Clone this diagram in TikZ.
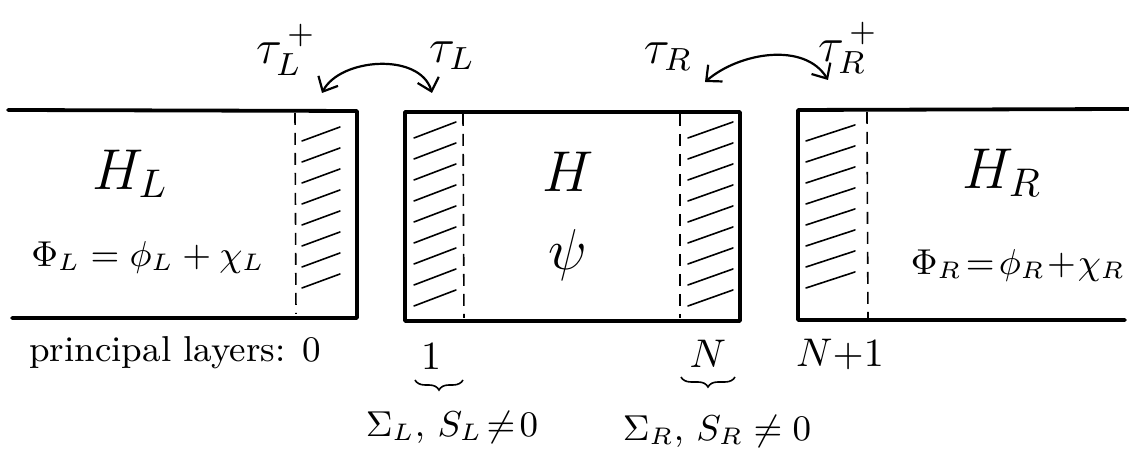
\documentclass[tikz,border=0pt]{standalone}
\usetikzlibrary{arrows.meta,decorations.pathreplacing}
\begin{document}
\begin{tikzpicture}[x=0.25pt,y=-0.25pt,
  box/.style={line width=0.95pt, line join=round, line cap=round},
  sep/.style={line width=0.4pt, dash pattern=on 3pt off 2pt},
  hatch/.style={line width=0.4pt, line cap=round},
  barb/.tip={Straight Barb[length=3pt,width=5.5pt,line width=0.55pt]},
  hop/.style={line width=0.55pt, {barb}-{barb}},
  lbl/.style={inner sep=0pt},
  brc/.style={line width=0.4pt, decorate, decoration={brace, mirror, amplitude=2.5pt}}]
\useasboundingbox (0,0) rectangle (1129,457);
% leads and device
\draw[box] (8,110) -- (357,111) -- (357,318) -- (12,318);
\draw[box] (405,112) rectangle (740,321);
\draw[box] (1129,109) -- (798,110) -- (798,320) -- (1125,320);
% principal-layer separators
\draw[sep] (295,113) -- (296,314);
\draw[sep] (463,114) -- (464,318);
\draw[sep] (680,114) -- (680,318);
\draw[sep] (867,112) -- (868,318);
% hatching
\foreach \y in {134,155,...,300} \draw[hatch] (302,\y+7) -- (340,\y-7);
\foreach \y in {130,151,...,300} \draw[hatch] (414,\y+8) -- (456,\y-8);
\foreach \y in {130,151,...,300} \draw[hatch] (688,\y+8) -- (733,\y-8);
\foreach \y in {133,154,...,300} \draw[hatch] (806,\y+8) -- (855,\y-8);
% labels
\node[lbl,font=\Large] (HL) at (130,174) {$H_L$};
\node[lbl,font=\small] (PhiL) at (148,258) {$\Phi_L = \phi_L + \chi_L$};
\node[lbl,font=\Large] (H) at (568,172) {$H$};
\node[lbl,font=\Large] (psi) at (568,255) {$\psi$};
\node[lbl,font=\Large] (HR) at (1002,173) {$H_R$};
\node[lbl,font=\small] (PhiR) at (1018,266) {$\Phi_R\!=\!\phi_R\!+\!\chi_R$};
\node[lbl,font=\large] (tLd) at (286,50) {$\tau_L^{\,+}$};
\node[lbl,font=\large] (tL) at (452,56) {$\tau_L$};
\node[lbl,font=\large] (tR) at (668,57) {$\tau_R$};
\node[lbl,font=\large] (tRd) at (848,48) {$\tau_R^{\,+}$};
\node[lbl,font=\small] (pl) at (175,353) {principal layers: 0};
\node[lbl,font=\normalsize] (one) at (432,356) {1};
\node[lbl,font=\normalsize] (N) at (708,354) {$N$};
\node[lbl,font=\normalsize] (N1) at (840,355) {$N{+}1$};
\node[lbl,font=\small] (SL) at (452,428) {$\Sigma_L,\,S_L\!\neq\!0$};
\node[lbl,font=\small] (SR) at (717,432) {$\Sigma_R,\,S_R\neq 0$};
% braces
\coordinate (b1a) at (415,380); \coordinate (b1b) at (463,380);
\coordinate (bNa) at (681,377); \coordinate (bNb) at (735,377);
\draw[brc] (b1a) -- (b1b);
\draw[brc] (bNa) -- (bNb);
% hopping arrows
\coordinate (aL1) at (322,93); \coordinate (aL2) at (432,93);
\coordinate (aR1) at (705,82); \coordinate (aR2) at (828,80);
\draw[hop] (aL1) .. controls (340,58) and (420,52) .. (aL2);
\draw[hop] (aR1) .. controls (740,52) and (805,42) .. (aR2);
\end{tikzpicture}
\end{document}
